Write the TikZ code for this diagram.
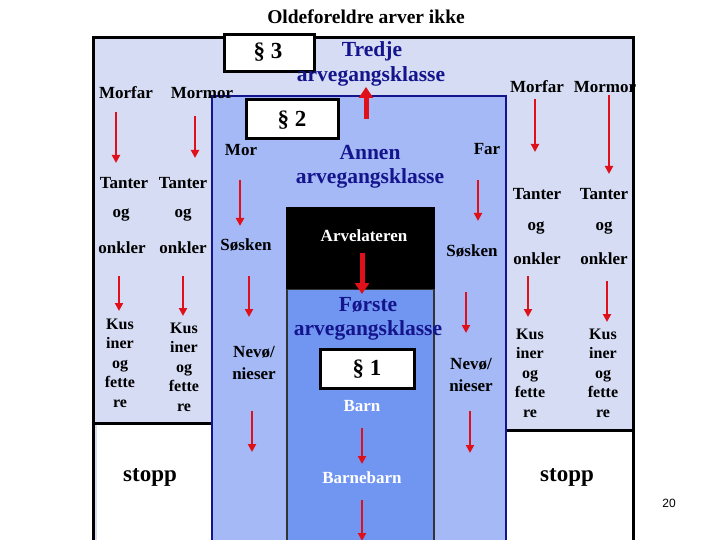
\documentclass[tikz,border=0pt]{standalone}
\usepackage{fontspec}
\setmainfont{Liberation Serif}
\newfontfamily\pgnum{Liberation Sans}
\usetikzlibrary{arrows.meta}
\definecolor{lav}{HTML}{D5DCF4}
\definecolor{midblue}{HTML}{A4B9F6}
\definecolor{firstblue}{HTML}{7196F2}
\definecolor{navy}{HTML}{14148C}
\definecolor{arrred}{HTML}{E0101A}
\tikzset{
  txt/.style={inner sep=0pt, font=\bfseries\fontsize{17}{19}\selectfont},
  small/.style={inner sep=0pt, font=\bfseries\fontsize{16}{19.5}\selectfont},
  klasse/.style={inner sep=0pt, text=navy, font=\bfseries\fontsize{21.5}{23}\selectfont},
  para/.style={draw=black, line width=3pt, fill=white},
  paratxt/.style={inner sep=0pt, font=\bfseries\fontsize{23}{25}\selectfont},
  stopptxt/.style={inner sep=0pt, font=\bfseries\fontsize{23}{25}\selectfont},
  redarr/.style={draw=arrred, line width=2.7pt, -{Triangle[length=8pt,width=8pt]}},
  bigarr/.style={draw=arrred, line width=5pt, -{Triangle[length=11pt,width=14pt]}},
}
\begin{document}
\begin{tikzpicture}[x=1pt,y=-1pt]
\useasboundingbox (0,0) rectangle (720,540);
\clip (0,0) rectangle (720,540);
\fill[white] (0,0) rectangle (720,540);
% outer (third class) box
\filldraw[fill=lav, draw=black, line width=3pt] (93,38) rectangle (633,560);
% stop areas
\fill[white] (97,425) rectangle (212,560);
\draw[black, line width=3pt] (93,423) -- (212,423);
\fill[white] (506,431) rectangle (631.5,560);
\draw[black, line width=3pt] (506,430) -- (633,430);
% second class box
\filldraw[fill=midblue, draw=navy, line width=2.5pt] (212,96) rectangle (506,560);
% first class box
\filldraw[fill=firstblue, draw=black!80, line width=1.5pt] (287,289) rectangle (434,560);
% Arvelateren box
\fill[black] (286,207) rectangle (435,289);

% title
\node[inner sep=0pt, font=\bfseries\fontsize{19.5}{21}\selectfont] (title) at (366,17) {Oldeforeldre arver ikke};

% paragraph boxes
\node[para, minimum width=90pt, minimum height=37pt] (p3) at (269,53.5) {};
\node[paratxt] (p3t) at (268,52) {§ 3};
\node[para, minimum width=92pt, minimum height=39pt] (p2) at (292,119.5) {};
\node[paratxt] (p2t) at (292,120) {§ 2};
\node[para, minimum width=94pt, minimum height=39pt] (p1) at (367,368.5) {};
\node[paratxt] (p1t) at (367,369) {§ 1};

% class labels
\node[klasse] (k3a) at (372,51) {Tredje};
\node[klasse] (k3b) at (371,76) {arvegangsklasse};
\node[klasse] (k2a) at (370,153) {Annen};
\node[klasse] (k2b) at (370,178) {arvegangsklasse};
\node[klasse] (k1a) at (368,305) {Første};
\node[klasse] (k1b) at (368,330) {arvegangsklasse};

% left side third class
\node[txt] (mfL) at (126,93) {Morfar};
\node[txt] (mmL) at (202,93) {Mormor};
\node[txt] (tL1) at (124,183) {Tanter};
\node[txt] (tL2) at (183,183) {Tanter};
\node[txt] (ogL1) at (121,215) {og};
\node[txt] (ogL2) at (183,215) {og};
\node[txt] (oL1) at (122,248) {onkler};
\node[txt] (oL2) at (183,248) {onkler};
\node[small, align=center] (kL1) at (120,363) {Kus\\iner\\og\\fette\\re};
\node[small, align=center] (kL2) at (184,367) {Kus\\iner\\og\\fette\\re};
\node[stopptxt] (sL) at (150,477) {stopp};

% right side third class
\node[txt] (mfR) at (537,87) {Morfar};
\node[txt] (mmR) at (605,87) {Mormor};
\node[txt] (tR1) at (537,194) {Tanter};
\node[txt] (tR2) at (604,194) {Tanter};
\node[txt] (ogR1) at (536,228) {og};
\node[txt] (ogR2) at (604,228) {og};
\node[txt] (oR1) at (537,259) {onkler};
\node[txt] (oR2) at (604,259) {onkler};
\node[small, align=center] (kR1) at (530,373) {Kus\\iner\\og\\fette\\re};
\node[small, align=center] (kR2) at (603,373) {Kus\\iner\\og\\fette\\re};
\node[stopptxt] (sR) at (567,477) {stopp};

% second class
\node[txt] (mor) at (241,150) {Mor};
\node[txt] (far) at (487,149) {Far};
\node[txt] (sosL) at (246,245) {Søsken};
\node[txt] (sosR) at (472,251) {Søsken};
\node[txt, align=center] (nevL) at (254,363) {Nevø/\\[3pt]nieser};
\node[txt, align=center] (nevR) at (471,375) {Nevø/\\[3pt]nieser};

% first class
\node[txt, text=white] (arv) at (364,236) {Arvelateren};
\node[txt, text=white] (barn) at (362,406) {Barn};
\node[txt, text=white] (bb) at (362,478) {Barnebarn};

% page number
\node[inner sep=0pt, font=\pgnum\fontsize{12}{14}\selectfont] (pg) at (669,503) {20};

% arrow end points
\coordinate (u1) at (366,119); \coordinate (u2) at (366,87);
\coordinate (a1s) at (116,112); \coordinate (a1e) at (116,163);
\coordinate (a2s) at (195,116); \coordinate (a2e) at (195,158);
\coordinate (a3s) at (535,99);  \coordinate (a3e) at (535,152);
\coordinate (a4s) at (609,95);  \coordinate (a4e) at (609,174);
\coordinate (a5s) at (240,180); \coordinate (a5e) at (240,226);
\coordinate (a6s) at (478,180); \coordinate (a6e) at (478,221);
\coordinate (a7s) at (119,276); \coordinate (a7e) at (119,311);
\coordinate (a8s) at (183,276); \coordinate (a8e) at (183,316);
\coordinate (a9s) at (249,276); \coordinate (a9e) at (249,317);
\coordinate (a10s) at (252,411); \coordinate (a10e) at (252,452);
\coordinate (a11s) at (466,292); \coordinate (a11e) at (466,333);
\coordinate (a12s) at (470,411); \coordinate (a12e) at (470,453);
\coordinate (a13s) at (528,276); \coordinate (a13e) at (528,317);
\coordinate (a14s) at (607,281); \coordinate (a14e) at (607,322);
\coordinate (b1s) at (362,253); \coordinate (b1e) at (362,294);
\coordinate (b2s) at (362,428); \coordinate (b2e) at (362,464);
\coordinate (b3s) at (362,500); \coordinate (b3e) at (362,541);

\draw[bigarr] (u1) -- (u2);
\draw[bigarr] (b1s) -- (b1e);
\foreach \n in {a1,a2,a3,a4,a5,a6,a7,a8,a9,a10,a11,a12,a13,a14,b2,b3}
  \draw[redarr] (\n s) -- (\n e);
\end{tikzpicture}
\end{document}
